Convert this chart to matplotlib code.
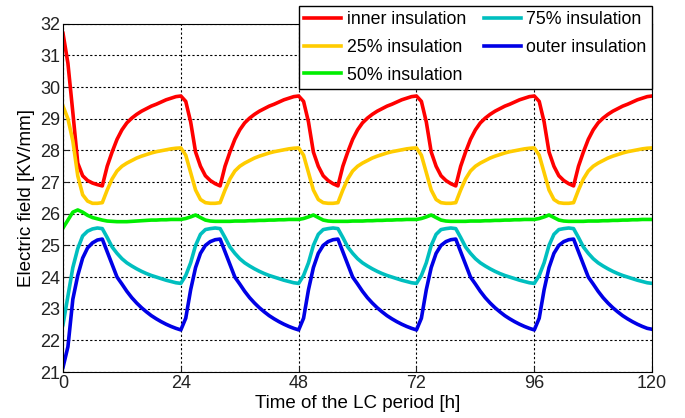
import numpy as np
from matplotlib import pyplot as plt

plt.rcParams['font.family'] = ['Liberation Sans', 'DejaVu Sans']

# time axis, one point per hour
hours = np.arange(0, 121)

# field values, [KV/mm]
inner = [
    31.70, 30.75, 29.20, 27.60, 27.20, 27.05, 26.97, 26.92, 26.88, 27.50, 27.95, 28.35,
    28.65, 28.87, 29.02, 29.14, 29.24, 29.32, 29.40, 29.46, 29.53, 29.60, 29.65, 29.70,
    29.72, 29.55, 28.90, 27.95, 27.50, 27.20, 27.05, 26.95, 26.88, 27.50, 27.95, 28.35,
    28.65, 28.87, 29.02, 29.14, 29.24, 29.32, 29.40, 29.46, 29.53, 29.60, 29.65, 29.70,
    29.72, 29.55, 28.90, 27.95, 27.50, 27.20, 27.05, 26.95, 26.88, 27.50, 27.95, 28.35,
    28.65, 28.87, 29.02, 29.14, 29.24, 29.32, 29.40, 29.46, 29.53, 29.60, 29.65, 29.70,
    29.72, 29.55, 28.90, 27.95, 27.50, 27.20, 27.05, 26.95, 26.88, 27.50, 27.95, 28.35,
    28.65, 28.87, 29.02, 29.14, 29.24, 29.32, 29.40, 29.46, 29.53, 29.60, 29.65, 29.70,
    29.72, 29.55, 28.90, 27.95, 27.50, 27.20, 27.05, 26.95, 26.88, 27.50, 27.95, 28.35,
    28.65, 28.87, 29.02, 29.14, 29.24, 29.32, 29.40, 29.46, 29.53, 29.60, 29.65, 29.70,
    29.72,
]
ins25 = [
    29.40, 29.00, 28.30, 27.20, 26.60, 26.40, 26.33, 26.33, 26.35, 26.75, 27.10, 27.35,
    27.50, 27.60, 27.68, 27.76, 27.82, 27.87, 27.92, 27.96, 27.99, 28.02, 28.05, 28.07,
    28.08, 27.85, 27.30, 26.75, 26.45, 26.35, 26.33, 26.33, 26.35, 26.75, 27.10, 27.35,
    27.50, 27.60, 27.68, 27.76, 27.82, 27.87, 27.92, 27.96, 27.99, 28.02, 28.05, 28.07,
    28.08, 27.85, 27.30, 26.75, 26.45, 26.35, 26.33, 26.33, 26.35, 26.75, 27.10, 27.35,
    27.50, 27.60, 27.68, 27.76, 27.82, 27.87, 27.92, 27.96, 27.99, 28.02, 28.05, 28.07,
    28.08, 27.85, 27.30, 26.75, 26.45, 26.35, 26.33, 26.33, 26.35, 26.75, 27.10, 27.35,
    27.50, 27.60, 27.68, 27.76, 27.82, 27.87, 27.92, 27.96, 27.99, 28.02, 28.05, 28.07,
    28.08, 27.85, 27.30, 26.75, 26.45, 26.35, 26.33, 26.33, 26.35, 26.75, 27.10, 27.35,
    27.50, 27.60, 27.68, 27.76, 27.82, 27.87, 27.92, 27.96, 27.99, 28.02, 28.05, 28.07,
    28.08,
]
ins50 = [
    25.55, 25.80, 26.05, 26.12, 26.05, 25.95, 25.88, 25.84, 25.80, 25.77, 25.76, 25.75,
    25.75, 25.75, 25.76, 25.77, 25.78, 25.79, 25.80, 25.80, 25.81, 25.81, 25.82, 25.82,
    25.82, 25.85, 25.90, 25.96, 25.88, 25.80, 25.77, 25.76, 25.76, 25.76, 25.76, 25.77,
    25.77, 25.77, 25.78, 25.78, 25.79, 25.79, 25.80, 25.80, 25.81, 25.81, 25.82, 25.82,
    25.82, 25.85, 25.90, 25.96, 25.88, 25.80, 25.77, 25.76, 25.76, 25.76, 25.76, 25.77,
    25.77, 25.77, 25.78, 25.78, 25.79, 25.79, 25.80, 25.80, 25.81, 25.81, 25.82, 25.82,
    25.82, 25.85, 25.90, 25.96, 25.88, 25.80, 25.77, 25.76, 25.76, 25.76, 25.76, 25.77,
    25.77, 25.77, 25.78, 25.78, 25.79, 25.79, 25.80, 25.80, 25.81, 25.81, 25.82, 25.82,
    25.82, 25.85, 25.90, 25.96, 25.88, 25.80, 25.77, 25.76, 25.76, 25.76, 25.76, 25.77,
    25.77, 25.77, 25.78, 25.78, 25.79, 25.79, 25.80, 25.80, 25.81, 25.81, 25.82, 25.82,
    25.82,
]
ins75 = [
    22.50, 23.40, 24.30, 24.90, 25.30, 25.45, 25.52, 25.55, 25.53, 25.25, 24.95, 24.75,
    24.58, 24.45, 24.35, 24.26, 24.18, 24.11, 24.05, 24.00, 23.95, 23.90, 23.86, 23.82,
    23.80, 24.05, 24.45, 25.00, 25.35, 25.50, 25.53, 25.55, 25.53, 25.25, 24.95, 24.75,
    24.58, 24.45, 24.35, 24.26, 24.18, 24.11, 24.05, 24.00, 23.95, 23.90, 23.86, 23.82,
    23.80, 24.05, 24.45, 25.00, 25.35, 25.50, 25.53, 25.55, 25.53, 25.25, 24.95, 24.75,
    24.58, 24.45, 24.35, 24.26, 24.18, 24.11, 24.05, 24.00, 23.95, 23.90, 23.86, 23.82,
    23.80, 24.05, 24.45, 25.00, 25.35, 25.50, 25.53, 25.55, 25.53, 25.25, 24.95, 24.75,
    24.58, 24.45, 24.35, 24.26, 24.18, 24.11, 24.05, 24.00, 23.95, 23.90, 23.86, 23.82,
    23.80, 24.05, 24.45, 25.00, 25.35, 25.50, 25.53, 25.55, 25.53, 25.25, 24.95, 24.75,
    24.58, 24.45, 24.35, 24.26, 24.18, 24.11, 24.05, 24.00, 23.95, 23.90, 23.86, 23.82,
    23.80,
]
outer = [
    21.15, 21.80, 23.30, 24.05, 24.60, 24.92, 25.08, 25.17, 25.20, 24.80, 24.40, 24.00,
    23.78, 23.55, 23.35, 23.18, 23.03, 22.90, 22.78, 22.68, 22.59, 22.51, 22.44, 22.38,
    22.33, 22.70, 23.60, 24.30, 24.75, 25.00, 25.12, 25.18, 25.20, 24.80, 24.40, 24.00,
    23.78, 23.55, 23.35, 23.18, 23.03, 22.90, 22.78, 22.68, 22.59, 22.51, 22.44, 22.38,
    22.33, 22.70, 23.60, 24.30, 24.75, 25.00, 25.12, 25.18, 25.20, 24.80, 24.40, 24.00,
    23.78, 23.55, 23.35, 23.18, 23.03, 22.90, 22.78, 22.68, 22.59, 22.51, 22.44, 22.38,
    22.33, 22.70, 23.60, 24.30, 24.75, 25.00, 25.12, 25.18, 25.20, 24.80, 24.40, 24.00,
    23.78, 23.55, 23.35, 23.18, 23.03, 22.90, 22.78, 22.68, 22.59, 22.51, 22.44, 22.38,
    22.33, 22.70, 23.60, 24.30, 24.75, 25.00, 25.12, 25.18, 25.20, 24.80, 24.40, 24.00,
    23.78, 23.55, 23.35, 23.18, 23.03, 22.90, 22.78, 22.68, 22.59, 22.51, 22.44, 22.38,
    22.35,
]

x_ticks = [0, 24, 48, 72, 96, 120]
y_ticks = list(range(21, 33))

fig = plt.figure(figsize=(6.85, 4.18), dpi=100)
ax = fig.add_axes([0.092, 0.110, 0.860, 0.833])

ax.plot(hours, inner, color='#ff0000', lw=2.6, label='inner insulation')
ax.plot(hours, ins25, color='#ffcc00', lw=2.6, label='25% insulation')
ax.plot(hours, ins50, color='#00ee00', lw=2.6, label='50% insulation')
ax.plot(hours, ins75, color='#00bfbf', lw=2.6, label='75% insulation')
ax.plot(hours, outer, color='#0000e6', lw=2.6, label='outer insulation')

ax.set_xlim(0, 120)
ax.set_ylim(21, 32)
ax.set_xticks(x_ticks)
ax.set_yticks(y_ticks)
ax.tick_params(direction='in', labelsize=13, length=4, pad=2, colors='#222222')
ax.grid(True, color='black', linestyle=(0, (2, 2)), linewidth=0.8)
for s in ax.spines.values():
    s.set_linewidth(0.8)

ax.set_xlabel('Time of the LC period [h]', fontsize=13.5, labelpad=2)
ax.set_ylabel('Electric field [KV/mm]', fontsize=13.5, labelpad=4)

leg = ax.legend(ncol=2, loc='upper right', bbox_to_anchor=(652 / 685, 1 - 6 / 418),
                bbox_transform=fig.transFigure, borderaxespad=0, fontsize=12.8,
                fancybox=False, framealpha=1, edgecolor='black',
                handlelength=2.1, handletextpad=0.3, columnspacing=1.0,
                labelspacing=0.6, borderpad=0.3)
leg.get_frame().set_linewidth(1.0)

fig.savefig('out.png', dpi=100)
